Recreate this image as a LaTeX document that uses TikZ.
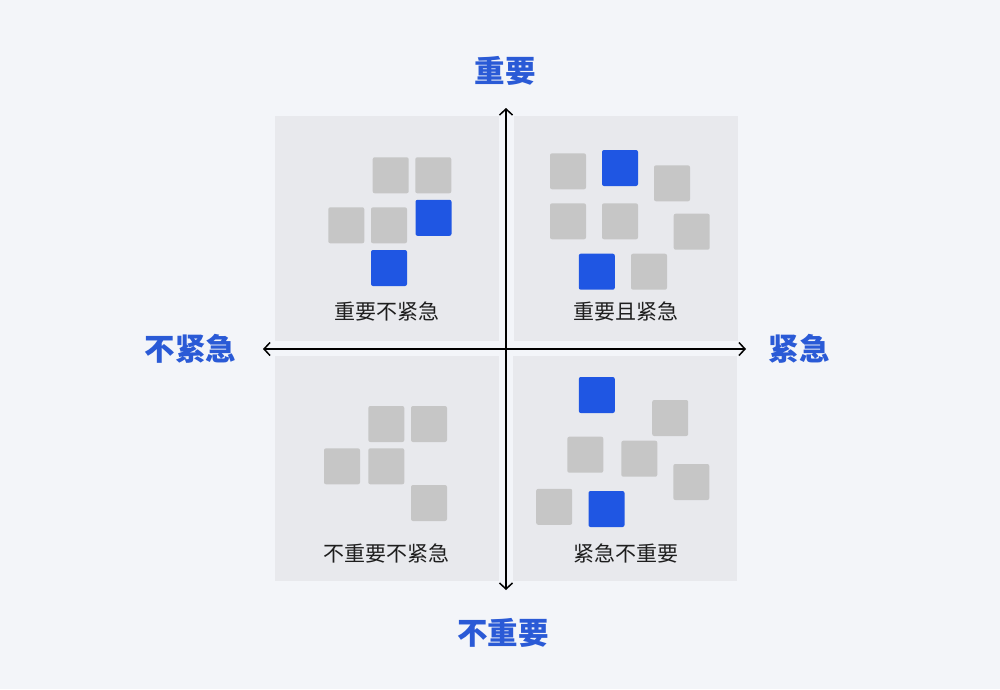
\documentclass[tikz,border=0pt]{standalone}
\usepackage{fontspec}
\newfontfamily\cjk{Noto Sans CJK SC}
\usetikzlibrary{arrows.meta}
\definecolor{bgc}{HTML}{F3F5F9}
\definecolor{quadc}{HTML}{E8E9ED}
\definecolor{sqgray}{HTML}{C6C6C6}
\definecolor{sqblue}{HTML}{1F56E3}
\definecolor{axblue}{HTML}{2A5AD6}
\definecolor{txt}{HTML}{1E1E1E}
\tikzset{
  quad/.style={fill=quadc, draw=none, minimum width=224pt, minimum height=225pt, inner sep=0pt},
  sq/.style={fill=sqgray, draw=none, minimum width=36pt, minimum height=36pt, inner sep=0pt, rounded corners=2pt},
  sqb/.style={sq, fill=sqblue},
  qlabel/.style={font=\cjk\fontsize{21}{25}\selectfont, text=txt, inner sep=0pt},
  alabel/.style={font=\cjk\bfseries\fontsize{30.5}{36}\selectfont, text=axblue, inner sep=0pt},
  axis/.style={line width=1.5pt, black, {Straight Barb[length=6pt,width=13pt]}-{Straight Barb[length=6pt,width=13pt]}}
}
\begin{document}
\begin{tikzpicture}[x=1pt,y=-1pt]
\fill[bgc] (0,0) rectangle (1000,689);
\useasboundingbox (0,0) rectangle (1000,689);
% quadrants
\node[quad] (qtl) at (387,228.5) {};
\node[quad] (qtr) at (626,228.5) {};
\node[quad] (qbl) at (386.5,468) {};
\node[quad] (qbr) at (625,468.5) {};
% top-left squares
\node[sq]  (tl1) at (390.7,175.3) {};
\node[sq]  (tl2) at (433.3,175.3) {};
\node[sqb] (tl3) at (433.5,217.8) {};
\node[sq]  (tl4) at (346.3,225.3) {};
\node[sq]  (tl5) at (389,225.3) {};
\node[sqb] (tl6) at (389,268) {};
% top-right squares
\node[sq]  (tr1) at (568,171.3) {};
\node[sqb] (tr2) at (620,168) {};
\node[sq]  (tr3) at (672,183.3) {};
\node[sq]  (tr4) at (568,221.3) {};
\node[sq]  (tr5) at (620,221.3) {};
\node[sq]  (tr6) at (691.7,231.7) {};
\node[sqb] (tr7) at (596.8,271.7) {};
\node[sq]  (tr8) at (649,271.7) {};
% bottom-left squares
\node[sq]  (bl1) at (386.3,424) {};
\node[sq]  (bl2) at (429,424) {};
\node[sq]  (bl3) at (342,466.3) {};
\node[sq]  (bl4) at (386.3,466.3) {};
\node[sq]  (bl5) at (429,503) {};
% bottom-right squares
\node[sqb] (br1) at (596.8,395) {};
\node[sq]  (br2) at (670.2,418) {};
\node[sq]  (br3) at (585.3,454.7) {};
\node[sq]  (br4) at (639.3,458.7) {};
\node[sq]  (br5) at (691.3,482) {};
\node[sq]  (br6) at (554.2,506.8) {};
\node[sqb] (br7) at (606.5,509) {};
% quadrant labels
\node[qlabel] (ltl) at (386.7,311.7) {重要不紧急};
\node[qlabel] (ltr) at (626,311.7) {重要且紧急};
\node[qlabel] (lbl) at (386.7,553.3) {不重要不紧急};
\node[qlabel] (lbr) at (626,553.3) {紧急不重要};
% axis labels
\node[alabel] (atop) at (505,71) {重要};
\node[alabel] (abot) at (503,633) {不重要};
\node[alabel] (aleft) at (190.5,349) {不紧急};
\node[alabel] (aright) at (799,349) {紧急};
% axes
\coordinate (vt) at (506,108);
\coordinate (vb) at (506,590);
\coordinate (hl) at (263,349);
\coordinate (hr) at (746,349);
\draw[axis] (vt) -- (vb);
\draw[axis] (hl) -- (hr);
\end{tikzpicture}
\end{document}
